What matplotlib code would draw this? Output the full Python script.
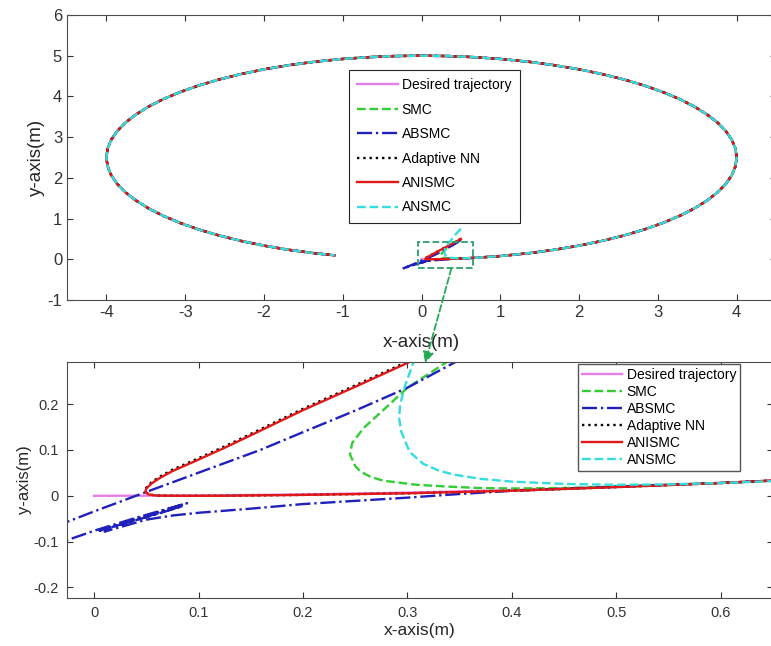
import matplotlib
matplotlib.use("Agg")
import matplotlib.pyplot as plt
from matplotlib.patches import Rectangle, ConnectionPatch

plt.rcParams['font.family'] = ['Liberation Sans', 'DejaVu Sans']
plt.rcParams['axes.unicode_minus'] = False

# desired elliptical path
des_x = [0.0, 0.1, 0.2, 0.3, 0.4, 0.5, 0.6, 0.694,
         1.035, 1.368, 1.690, 2.0, 2.294, 2.571, 2.828, 3.064, 3.277, 3.464, 3.625, 3.759, 3.864, 3.939, 3.985, 4.0,
         3.985, 3.939, 3.864, 3.759, 3.625, 3.464, 3.277, 3.064, 2.828, 2.571, 2.294, 2.0, 1.690, 1.368, 1.035, 0.694, 0.349, 0.0,
         -0.349, -0.694, -1.035, -1.368, -1.690, -2.0, -2.294, -2.571, -2.828, -3.064, -3.277, -3.464, -3.625, -3.759, -3.864, -3.939, -3.985, -4.0,
         -3.985, -3.939, -3.864, -3.759, -3.625, -3.464, -3.277, -3.064, -2.828, -2.571, -2.294, -2.0, -1.690, -1.368, -1.102]
des_y = [0.0, 0.0008, 0.003, 0.007, 0.0125, 0.0196, 0.0282, 0.038,
         0.085, 0.151, 0.234, 0.335, 0.452, 0.585, 0.732, 0.893, 1.066, 1.25, 1.444, 1.645, 1.853, 2.066, 2.282, 2.5,
         2.718, 2.934, 3.147, 3.355, 3.556, 3.75, 3.934, 4.107, 4.268, 4.415, 4.548, 4.665, 4.766, 4.849, 4.915, 4.962, 4.991, 5.0,
         4.991, 4.962, 4.915, 4.849, 4.766, 4.665, 4.548, 4.415, 4.268, 4.107, 3.934, 3.75, 3.556, 3.355, 3.147, 2.934, 2.718, 2.5,
         2.282, 2.066, 1.853, 1.645, 1.444, 1.25, 1.066, 0.893, 0.732, 0.585, 0.452, 0.335, 0.234, 0.151, 0.097]
TAIL = 7  # controllers follow the desired path from here on

# start-up transients of each controller
smc_x = [0.45, 0.40, 0.341, 0.30, 0.283, 0.258, 0.247, 0.245, 0.25, 0.255, 0.265, 0.277, 0.309, 0.34, 0.369, 0.40, 0.45, 0.5, 0.6]
smc_y = [0.46, 0.38, 0.297, 0.236, 0.2, 0.148, 0.115, 0.09, 0.065, 0.053, 0.041, 0.033, 0.024, 0.02, 0.017, 0.016, 0.017, 0.02, 0.028]

absmc_x = [0.50, 0.45, 0.40, 0.35, 0.30, 0.25, 0.20, 0.159, 0.10, 0.047, 0.0, -0.026, -0.10, -0.24, -0.12, -0.025,
           0.003, 0.04, 0.089, 0.03, 0.005, 0.06, 0.085, 0.02, 0.01, 0.05, 0.075, 0.10, 0.15, 0.20, 0.25, 0.30,
           0.35, 0.40, 0.50, 0.60]
absmc_y = [0.48, 0.41, 0.35, 0.297, 0.236, 0.186, 0.139, 0.10, 0.0505, 0.006, -0.034, -0.057, -0.12, -0.23, -0.15, -0.096,
           -0.074, -0.048, -0.016, -0.058, -0.076, -0.04, -0.022, -0.066, -0.078, -0.052, -0.043, -0.037, -0.028, -0.018, -0.011, -0.004,
           0.004, 0.011, 0.02, 0.028]

nn_x = [0.50, 0.40, 0.30, 0.25, 0.20, 0.159, 0.127, 0.095, 0.075, 0.063, 0.055, 0.050, 0.049, 0.052, 0.060, 0.08, 0.12, 0.2, 0.3, 0.4, 0.5, 0.6]
nn_y = [0.503, 0.393, 0.293, 0.241, 0.19, 0.145, 0.11, 0.077, 0.057, 0.042, 0.03, 0.018, 0.01, 0.003, 0.0005, 0.0, 0.0, 0.002, 0.0055, 0.011, 0.019, 0.028]

anismc_x = [0.50, 0.40, 0.30, 0.25, 0.20, 0.159, 0.127, 0.095, 0.075, 0.063, 0.055, 0.050, 0.049, 0.052, 0.060, 0.08, 0.12, 0.2, 0.3, 0.4, 0.5, 0.6]
anismc_y = [0.50, 0.39, 0.29, 0.238, 0.187, 0.142, 0.107, 0.074, 0.054, 0.039, 0.027, 0.016, 0.009, 0.003, 0.0005, 0.0, 0.0, 0.002, 0.0055, 0.011, 0.019, 0.028]

ansmc_x = [0.50, 0.45, 0.40, 0.35, 0.307, 0.298, 0.293, 0.292, 0.294, 0.302, 0.315, 0.33, 0.345, 0.37, 0.40, 0.45, 0.50, 0.55, 0.60, 0.65]
ansmc_y = [0.75, 0.65, 0.53, 0.41, 0.30, 0.242, 0.2, 0.17, 0.14, 0.096, 0.07, 0.055, 0.046, 0.037, 0.031, 0.026, 0.024, 0.025, 0.028, 0.032]

labels = ['Desired trajectory', 'SMC', 'ABSMC', 'Adaptive NN', 'ANISMC', 'ANSMC']

tx, ty = des_x[TAIL:], des_y[TAIL:]
series = [
    (des_x, des_y, dict(color='#e57ee5', ls='-')),
    (smc_x + tx, smc_y + ty, dict(color='#33cc33', ls='--')),
    (absmc_x + tx, absmc_y + ty, dict(color='#2020bb', ls='-.')),
    (nn_x + tx, nn_y + ty, dict(color='black', ls=':')),
    (anismc_x + tx, anismc_y + ty, dict(color='#e01818', ls='-')),
    (ansmc_x + tx, ansmc_y + ty, dict(color='#33dddd', ls='--')),
]

fig = plt.figure(figsize=(7.71, 6.46), dpi=100)
ax1 = fig.add_axes([0.0869, 0.5356, 0.9196, 0.4412])
ax2 = fig.add_axes([0.0869, 0.0743, 0.9157, 0.3653])

for ax in (ax1, ax2):
    for (x, y, st), lab in zip(series, labels):
        ax.plot(x, y, lw=1.7, label=lab, **st)
    ax.tick_params(direction='in', top=True, right=True, colors='#333333', length=4)
    for s in ax.spines.values():
        s.set_color('#4d4d4d')

ax1.set_xlim(-4.5, 4.5)
ax1.set_ylim(-1, 6)
ax1.set_xticks(range(-4, 5))
ax1.set_yticks(range(-1, 7))
ax1.tick_params(labelsize=12)
ax1.set_xlabel('x-axis(m)', fontsize=13.5, color='#262626', labelpad=10)
ax1.set_ylabel('y-axis(m)', fontsize=13.5, color='#262626', labelpad=2)

ax2.set_xlim(-0.026, 0.65)
ax2.set_ylim(-0.223, 0.292)
ax2.set_xticks([0, 0.1, 0.2, 0.3, 0.4, 0.5, 0.6])
ax2.set_xticklabels(['0', '0.1', '0.2', '0.3', '0.4', '0.5', '0.6'])
ax2.set_yticks([-0.2, -0.1, 0, 0.1, 0.2])
ax2.set_yticklabels(['-0.2', '-0.1', '0', '0.1', '0.2'])
ax2.tick_params(labelsize=10.5, pad=6)
ax2.set_xlabel('x-axis(m)', fontsize=12.5, color='#262626', labelpad=2)
ax2.set_ylabel('y-axis(m)', fontsize=12, color='#262626', labelpad=1)

leg1 = ax1.legend(loc='upper left', bbox_to_anchor=(349 / 771, 1 - 70 / 646), bbox_transform=fig.transFigure,
                  fontsize=10, handlelength=2.9, handletextpad=0.3, labelspacing=0.75, borderpad=0.6,
                  fancybox=False, framealpha=1, borderaxespad=0)
leg1.get_frame().set_edgecolor('#262626')
leg1.get_frame().set_linewidth(0.8)

leg2 = ax2.legend(loc='upper left', bbox_to_anchor=(578 / 771, 1 - 364 / 646), bbox_transform=fig.transFigure,
                  fontsize=10, handlelength=2.9, handletextpad=0.3, labelspacing=0.21, borderpad=0.3,
                  fancybox=False, framealpha=1, borderaxespad=0)
leg2.get_frame().set_edgecolor('#555555')
leg2.get_frame().set_linewidth(1.0)

# zoom box and arrow
ax1.add_patch(Rectangle((-0.05, -0.22), 0.70, 0.64, fill=False, ls='--', lw=1.3, ec='#2e9e6a', zorder=5))
con = ConnectionPatch(xyA=(0.38, -0.22), coordsA=ax1.transData, xyB=(0.317, 0.29), coordsB=ax2.transData,
                      arrowstyle='-|>', ls='--', lw=1.3, color='#22aa55', mutation_scale=16, zorder=10)
fig.add_artist(con)

fig.savefig('out.png', dpi=100)
